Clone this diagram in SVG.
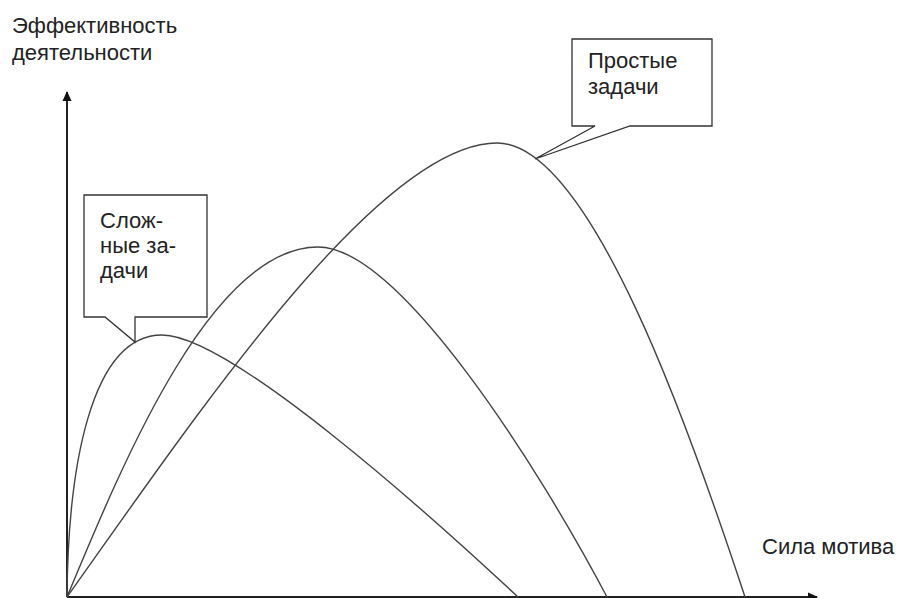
<svg xmlns="http://www.w3.org/2000/svg" width="901" height="598" viewBox="0 0 901 598">
<defs>
<style>
text{font-family:"Liberation Sans",Arial,sans-serif;font-size:22px;fill:#222}
.curve{fill:none;stroke:#444;stroke-width:1.4}
.axis{fill:none;stroke:#222;stroke-width:2}
.box{fill:#fff;stroke:#333;stroke-width:1.3}
</style>
<marker id="ah" markerWidth="10" markerHeight="10" refX="9" refY="5" orient="auto" markerUnits="userSpaceOnUse">
<path d="M0,0.5 L10,5 L0,9.5 Z" fill="#111"/>
</marker>
</defs>
<rect width="901" height="598" fill="#fff"/>
<g id="axes">
<line class="axis" x1="67" y1="597" x2="67" y2="92" marker-end="url(#ah)"/>
<line class="axis" x1="67" y1="597" x2="817" y2="597" marker-end="url(#ah)"/>
<text x="12" y="33">Эффективность</text>
<text x="12" y="60">деятельности</text>
<text x="762" y="554">Сила мотива</text>
</g>
<g id="connectors">
<path class="curve" d="M67,597 C68,470 90,335 162,335 C230,335 430,515 518,597"/>
<path class="curve" d="M67,597 C120,470 210,247 318,247 C400,247 540,470 607,597"/>
<path class="curve" d="M67,597 C200,410 380,143 497,143 C590,143 690,430 745,597"/>
</g>
<g id="complex">
<path class="box" d="M84,195 H207 V317 H135 V342 L105,317 H84 Z"/>
<text x="100" y="228">Слож-</text>
<text x="100" y="253">ные за-</text>
<text x="100" y="278">дачи</text>
</g>
<g id="simple">
<path class="box" d="M572,39 H712 V126 H630 L535,159 L595,126 H572 Z"/>
<text x="588" y="68">Простые</text>
<text x="588" y="94">задачи</text>
</g>
</svg>
